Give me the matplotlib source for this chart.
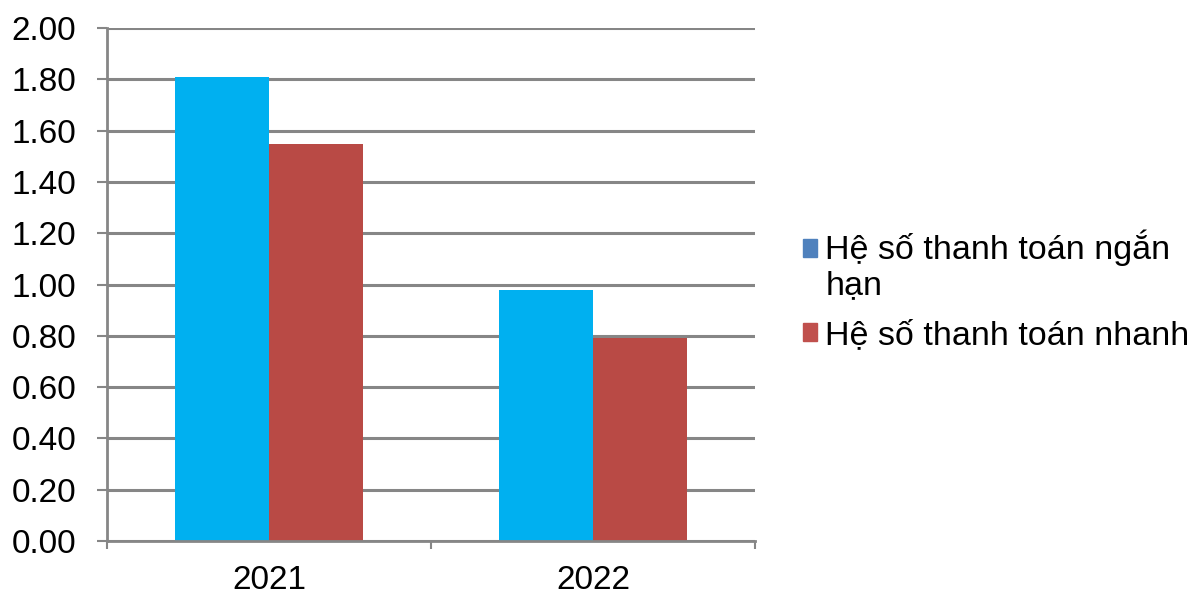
import numpy as np
import matplotlib.pyplot as plt
from matplotlib.patches import Patch, Rectangle
from matplotlib.legend_handler import HandlerPatch

years = ['2021', '2022']
ngan_han = [1.81, 0.98]
nhanh = [1.55, 0.79]
labels = ['Hệ số thanh toán ngắn\nhạn', 'Hệ số thanh toán nhanh']
y_ticks = np.arange(0, 2.01, 0.2)

plt.rcParams['font.family'] = ['Liberation Sans', 'DejaVu Sans']

fig = plt.figure(figsize=(11.98, 5.97), dpi=100)
ax = fig.add_axes([0.0893, 0.0938, 0.541, 0.859])

x = np.arange(len(years))
w = 0.29
ax.bar(x - w / 2, ngan_han, w, color='#00B0F0', zorder=3)
ax.bar(x + w / 2, nhanh, w, color='#B94A45', zorder=3)

ax.set_xlim(-0.5, 1.5)
ax.set_ylim(0, 2.0)
ax.set_yticks(y_ticks)
ax.set_yticklabels(['%.2f' % v for v in y_ticks])
ax.yaxis.grid(True, color='#868686', linewidth=2.2, zorder=0)

# category ticks between groups
ax.set_xticks([-0.5, 0.5, 1.5])
ax.set_xticklabels(['', '', ''])
ax.set_xticks(x, minor=True)
ax.set_xticklabels(years, minor=True)
ax.tick_params(axis='x', which='minor', length=0, labelsize=24, pad=17)
ax.tick_params(axis='x', which='major', length=6, width=1.5, color='#868686')
ax.tick_params(axis='y', length=7, width=1.5, color='#868686', labelsize=24, pad=15)

for s in ['top', 'right']:
    ax.spines[s].set_visible(False)
ax.spines['left'].set_color('#868686')
ax.spines['left'].set_linewidth(2)
ax.spines['bottom'].set_color('#868686')
ax.spines['bottom'].set_linewidth(2)
ax.spines['bottom'].set_zorder(4)


# legend square sits on the first text line
def first_line_patch(legend, orig_handle, xdescent, ydescent, width, height, fontsize):
    return Rectangle((-xdescent, -ydescent + 0.5 * fontsize), width, height)


def plain_patch(legend, orig_handle, xdescent, ydescent, width, height, fontsize):
    return Rectangle((-xdescent, -ydescent), width, height)


h1 = Patch(color='#4F81BD')
h2 = Patch(color='#C0504D')
fig.legend([h1, h2], labels, loc='center left', bbox_to_anchor=(0.670, 0.514),
           frameon=False, fontsize=24.5, handlelength=0.42, handleheight=0.42,
           handletextpad=0.25, labelspacing=0.55, borderpad=0, borderaxespad=0,
           handler_map={h1: HandlerPatch(patch_func=first_line_patch),
                        h2: HandlerPatch(patch_func=plain_patch)})

fig.savefig('out.png', dpi=100)
